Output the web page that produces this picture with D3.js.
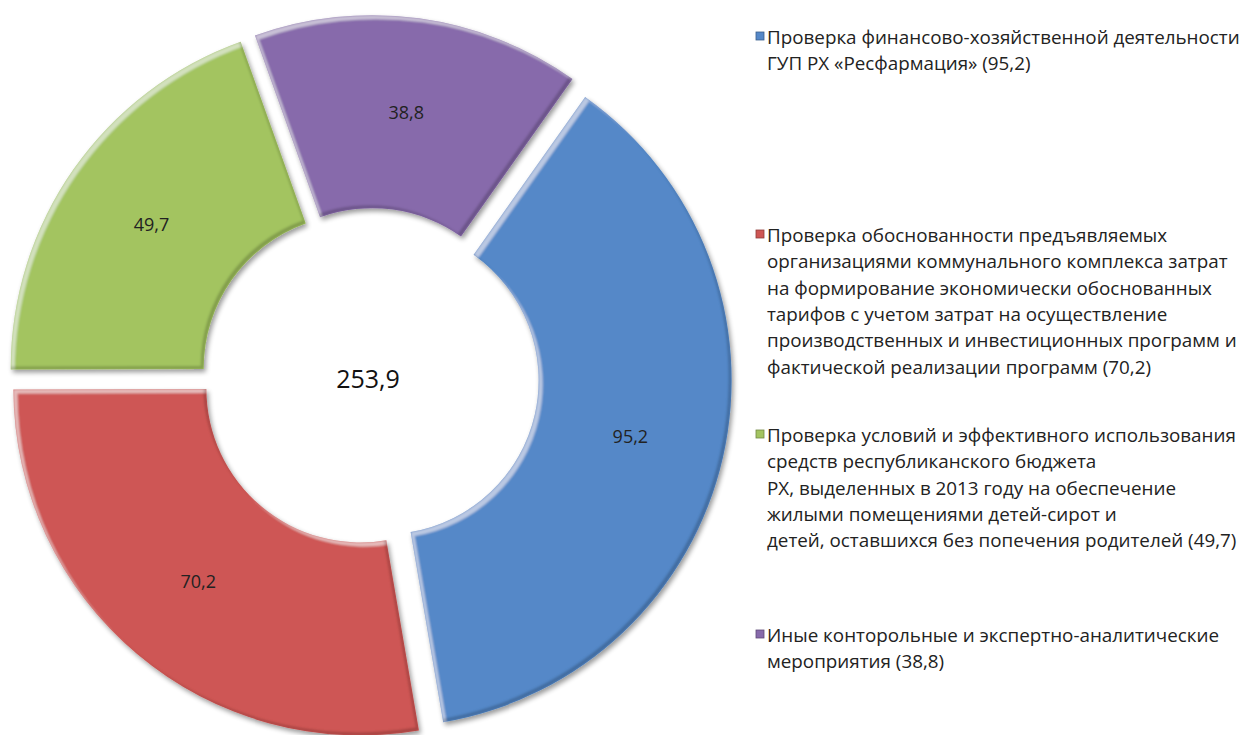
<!DOCTYPE html>
<html>
<head>
<meta charset="utf-8">
<script src="https://cdn.jsdelivr.net/npm/d3@7/dist/d3.min.js"></script>
<style>
  body { margin: 0; background: #fff; }
  svg { display: block; font-family: "Open Sans", "Noto Sans", sans-serif; }
</style>
</head>
<body>
<div class="chart"></div>
<script>
var svgWidth = 1253;
var svgHeight = 735;

// data
var values = [95.2, 70.2, 49.7, 38.8];
var valueLabels = ["95,2", "70,2", "49,7", "38,8"];
var colors = ["#5588c8", "#ce5654", "#a3c461", "#876aab"];
var totalLabel = "253,9";
var legendLines = [
  ["Проверка финансово-хозяйственной деятельности",
   "ГУП РХ «Ресфармация» (95,2)"],
  ["Проверка обоснованности предъявляемых",
   "организациями коммунального комплекса затрат",
   "на формирование экономически обоснованных",
   "тарифов с учетом затрат на осуществление",
   "производственных и инвестиционных программ и",
   "фактической реализации  программ (70,2)"],
  ["Проверка условий и эффективного использования",
   "средств республиканского бюджета",
   "РХ, выделенных в 2013 году на обеспечение",
   "жилыми помещениями детей-сирот и",
   "детей, оставшихся без попечения родителей (49,7)"],
  ["Иные конторольные и экспертно-аналитические",
   "мероприятия (38,8)"]
];

var cx = 370, cy = 377;
var outerR = 347, innerR = 154, explode = 15, labelR = 252;

var svg = d3.select(".chart").append("svg")
  .attr("width", svgWidth)
  .attr("height", svgHeight);

// inner bevel (light top-left edges, dark bottom-right edges) + drop shadow
var defs = svg.append("defs");
var f = defs.append("filter").attr("id", "bevel")
  .attr("x", "-10%").attr("y", "-10%").attr("width", "120%").attr("height", "120%");

f.append("feOffset").attr("in", "SourceAlpha").attr("dx", 3.5).attr("dy", 3.5).attr("result", "offDR");
f.append("feComposite").attr("in", "SourceAlpha").attr("in2", "offDR").attr("operator", "out").attr("result", "hiBand");
f.append("feGaussianBlur").attr("in", "hiBand").attr("stdDeviation", 1).attr("result", "hiBlur");
f.append("feComposite").attr("in", "hiBlur").attr("in2", "SourceAlpha").attr("operator", "in").attr("result", "hiClip");
f.append("feFlood").attr("flood-color", "#ffffff").attr("flood-opacity", 0.45).attr("result", "white");
f.append("feComposite").attr("in", "white").attr("in2", "hiClip").attr("operator", "in").attr("result", "hiColor");

f.append("feOffset").attr("in", "SourceAlpha").attr("dx", -3.5).attr("dy", -3.5).attr("result", "offUL");
f.append("feComposite").attr("in", "SourceAlpha").attr("in2", "offUL").attr("operator", "out").attr("result", "loBand");
f.append("feGaussianBlur").attr("in", "loBand").attr("stdDeviation", 1.2).attr("result", "loBlur");
f.append("feComposite").attr("in", "loBlur").attr("in2", "SourceAlpha").attr("operator", "in").attr("result", "loClip");
f.append("feFlood").attr("flood-color", "#000000").attr("flood-opacity", 0.38).attr("result", "black");
f.append("feComposite").attr("in", "black").attr("in2", "loClip").attr("operator", "in").attr("result", "loColor");

f.append("feOffset").attr("in", "SourceAlpha").attr("dx", 2).attr("dy", 3).attr("result", "off");
f.append("feGaussianBlur").attr("in", "off").attr("stdDeviation", 2.5).attr("result", "offBlur");
f.append("feComponentTransfer").attr("in", "offBlur").attr("result", "shadow")
  .append("feFuncA").attr("type", "linear").attr("slope", 0.4);

var merge = f.append("feMerge");
merge.append("feMergeNode").attr("in", "shadow");
merge.append("feMergeNode").attr("in", "SourceGraphic");
merge.append("feMergeNode").attr("in", "hiColor");
merge.append("feMergeNode").attr("in", "loColor");

var pie = d3.pie()
  .sort(null)
  .startAngle(35.3 * Math.PI / 180)
  .endAngle(395.3 * Math.PI / 180);

var arc = d3.arc().innerRadius(innerR).outerRadius(outerR);
var labelArc = d3.arc().innerRadius(labelR).outerRadius(labelR);

var arcs = pie(values);

var chartGroup = svg.append("g")
  .attr("transform", `translate(${cx}, ${cy})`);

var slices = chartGroup.selectAll("g.slice")
  .data(arcs)
  .enter()
  .append("g")
  .attr("class", "slice")
  .attr("transform", function(d) {
    var a = (d.startAngle + d.endAngle) / 2;
    return `translate(${explode * Math.sin(a)}, ${-explode * Math.cos(a)})`;
  });

slices.append("path")
  .attr("d", arc)
  .attr("fill", (d, i) => colors[i])
  .attr("filter", "url(#bevel)");

slices.append("text")
  .attr("x", d => labelArc.centroid(d)[0])
  .attr("y", d => labelArc.centroid(d)[1])
  .attr("text-anchor", "middle")
  .attr("dominant-baseline", "central")
  .attr("font-size", 18)
  .attr("fill", "#222")
  .text((d, i) => valueLabels[i]);

chartGroup.append("text")
  .attr("x", -2)
  .attr("y", 1)
  .attr("text-anchor", "middle")
  .attr("dominant-baseline", "central")
  .attr("font-size", 25)
  .attr("fill", "#111")
  .text(totalLabel);

// legend
var blockTops = [37, 235, 435, 635];
var lineH = 26.3;
var legendX = 767;

var legend = svg.append("g").attr("class", "legend");
legendLines.forEach(function(lines, i) {
  legend.append("rect")
    .attr("x", 756)
    .attr("y", blockTops[i] - 5)
    .attr("width", 8)
    .attr("height", 8)
    .attr("fill", colors[i])
    .attr("stroke", d3.color(colors[i]).darker(1))
    .attr("stroke-width", 0.8);
  lines.forEach(function(line, j) {
    legend.append("text")
      .attr("x", legendX)
      .attr("y", blockTops[i] + j * lineH)
      .attr("dominant-baseline", "central")
      .attr("font-size", 17)
      .attr("fill", "#222")
      .attr("class", "legend-line")
      .text(line);
  });
});

// fit the legend font so the widest line spans like in the original
var widest = 0;
legend.selectAll("text.legend-line").each(function() {
  widest = Math.max(widest, this.getComputedTextLength());
});
var target = 1240 - legendX;
var fs = 17 * target / widest;
legend.selectAll("text.legend-line").attr("font-size", fs);
</script>
</body>
</html>
